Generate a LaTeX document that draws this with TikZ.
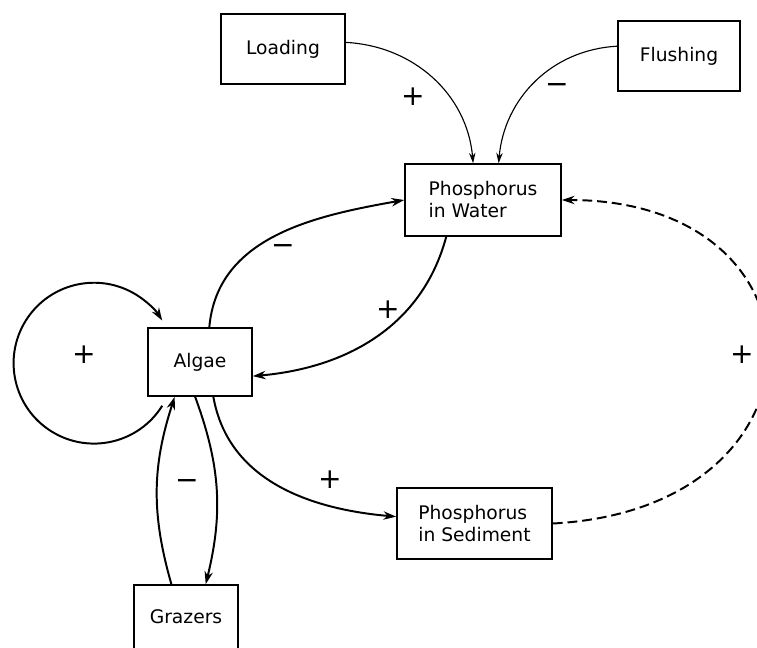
\documentclass[tikz,border=0pt]{standalone}
\usepackage{fontspec}
\setmainfont{DejaVu Sans}
\usetikzlibrary{arrows.meta, calc}

\begin{document}
\begin{tikzpicture}[
    x=0.025cm, y=-0.025cm,
    box/.style={draw, line width=1.1pt, align=left, inner sep=0pt, font=\fontsize{13.3}{15.6}\selectfont},
    link/.style={->, line width=1.4pt, >={Stealth[length=3.2mm, width=2.1mm]}},
    feed/.style={->, line width=0.8pt, >={Stealth[length=2.6mm, width=1.6mm]}},
    sign/.style={font=\fontsize{20}{20}\selectfont}
]
\clip (0,0) rectangle (757,648);

\node[box, minimum width=3.1cm, minimum height=1.75cm] (loading) at (283,49) {Loading};
\node[box, minimum width=3.05cm, minimum height=1.75cm] (flushing) at (679,56) {Flushing};
\node[box, minimum width=3.9cm, minimum height=1.8cm] (water) at (483,200) {Phosphorus\\in Water};
\node[box, minimum width=2.6cm, minimum height=1.7cm] (algae) at (200,362) {Algae};
\node[box, minimum width=2.6cm, minimum height=1.6cm] (grazers) at (186,617) {Grazers};
\node[box, minimum width=3.875cm, minimum height=1.775cm] (sediment) at (474.5,523.5) {Phosphorus\\in Sediment};

\draw[feed] (loading.6) to[out=-3, in=95] (water.105);
\draw[feed] (flushing.171) to[out=183, in=85] (water.67);
\draw[link] (algae.75) to[out=85, in=190] (water.west);
\draw[link] (water.-135) to[out=-105, in=5] (algae.-15);
\draw[link] ($(algae.south west)+(15,9)$) arc[start angle=-32, end angle=-328, radius=2.01cm];
\draw[link] (grazers.114) to[bend left=17] (algae.-126);
\draw[link] (algae.-98) to[bend left=17] (grazers.59);
\draw[link] (algae.-69) to[out=-80, in=175] (sediment.175);
\draw[link, dash pattern=on 7pt off 3.5pt] (sediment.east) .. controls +(285,-15) and +(275,0) .. (water.east);

\node[sign] (s1) at (413,97) {+};
\node[sign] (s2) at (557,89) {−};
\node[sign] (s3) at (283,250) {−};
\node[sign] (s4) at (388,310) {+};
\node[sign] (s5) at (84,355) {+};
\node[sign] (s6) at (742,355) {+};
\node[sign] (s7) at (330,480) {+};
\node[sign] (s8) at (187,485) {−};
\end{tikzpicture}
\end{document}
